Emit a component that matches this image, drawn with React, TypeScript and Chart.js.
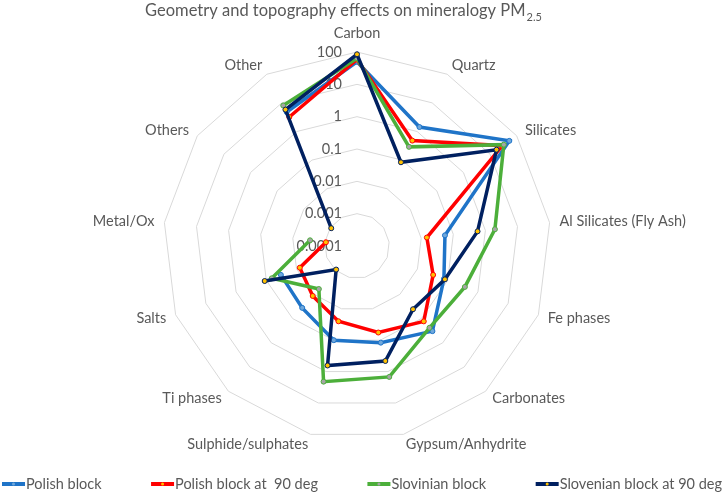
import React, { useRef, useEffect } from 'react';
import Chart from 'chart.js/auto';

// categories around the radar, clockwise from the top
const categories = [
    'Carbon',
    'Quartz',
    'Silicates',
    'Al Silicates (Fly Ash)',
    'Fe phases',
    'Carbonates',
    'Gypsum/Anhydrite',
    'Sulphide/sulphates',
    'Ti phases',
    'Salts',
    'Metal/Ox',
    'Others',
    'Other',
];

// log axis rings
const tickValues = [0.0001, 0.001, 0.01, 0.1, 1, 10, 100];
const tickLabels = ['0.0001', '0.001', '0.01', '0.1', '1', '10', '100'];

// null = zero in the sheet, not drawn on a log axis
const polishBlock = [50, 1.43, 53, 0.055, 0.075, 0.33, 0.12, 0.1, 0.036, 0.033, null, null, 4.8];
const polishBlock90 = [59, 0.48, 29, 0.015, 0.033, 0.13, 0.057, 0.025, 0.0116, 0.0078, 0.00093, null, 3.2];
const slovinianBlock = [64, 0.29, 33, 1.98, 0.37, 0.24, 1.48, 2.09, 0.006, 0.066, 0.0029, null, 8.1];
const slovenianBlock90 = [85, 0.084, 17.5, 0.57, 0.081, 0.041, 0.46, 0.64, 0.00094, 0.113, null, 0.00093, 5.8];

const seriesNames = ['Polish block', 'Polish block at  90 deg', 'Slovinian block', 'Slovenian block at 90 deg'];
const seriesValues = [polishBlock, polishBlock90, slovinianBlock, slovenianBlock90];

const lineColors = ['#1F74C8', '#FF0000', '#4CAF3A', '#002060'];
const markerColors = ['#6FA8DC', '#FFC000', '#A5A5A5', '#FFC000'];

const FONT = 'Lato, sans-serif';
const TEXT = '#595959';

const toLog = (v: number | null) => (v == null ? null : Math.log10(v));

// text drawn the way the spreadsheet lays it out
const excelText = {
    id: 'excelText',
    beforeDatasetsDraw(chart: any) {
        const scale = chart.scales.r;
        const ctx = chart.ctx;
        ctx.save();
        ctx.font = `14.5px ${FONT}`;
        ctx.fillStyle = TEXT;
        ctx.textAlign = 'right';
        ctx.textBaseline = 'middle';
        tickValues.forEach((v, i) => {
            const d = scale.getDistanceFromCenterForValue(Math.log10(v));
            ctx.fillText(tickLabels[i], scale.xCenter - 15, scale.yCenter - d);
        });
        ctx.restore();
    },
    afterDraw(chart: any) {
        const scale = chart.scales.r;
        const ctx = chart.ctx;
        ctx.save();
        ctx.fillStyle = TEXT;

        // category labels
        ctx.font = `14.5px ${FONT}`;
        ctx.textBaseline = 'middle';
        categories.forEach((label, i) => {
            const angle = scale.getIndexAngle(i);
            const pad = i === 0 ? 19 : 10;
            const p = scale.getPointPosition(i, scale.drawingArea + pad);
            const s = Math.sin(angle);
            ctx.textAlign = Math.abs(s) < 0.05 ? 'center' : s > 0 ? 'left' : 'right';
            ctx.fillText(label, p.x, p.y);
        });

        // title with subscript
        const main = 'Geometry and topography effects on mineralogy PM';
        const sub = '2.5';
        ctx.textAlign = 'left';
        ctx.textBaseline = 'alphabetic';
        ctx.font = `16.5px ${FONT}`;
        const w1 = ctx.measureText(main).width;
        ctx.font = `11px ${FONT}`;
        const w2 = ctx.measureText(sub).width;
        const x0 = 343 - (w1 + w2) / 2;
        ctx.font = `16.5px ${FONT}`;
        ctx.fillText(main, x0, 16);
        ctx.font = `11px ${FONT}`;
        ctx.fillText(sub, x0 + w1 + 1, 20.5);

        // legend spread over the full width
        ctx.font = `14.5px ${FONT}`;
        ctx.textBaseline = 'middle';
        const y = 484;
        const lineLen = 23;
        const widths = seriesNames.map((n) => lineLen + 1 + ctx.measureText(n).width);
        const gap = (720 - widths.reduce((a, b) => a + b, 0)) / (seriesNames.length - 1);
        let x = 2;
        seriesNames.forEach((name, i) => {
            ctx.strokeStyle = lineColors[i];
            ctx.lineWidth = 4;
            ctx.beginPath();
            ctx.moveTo(x, y);
            ctx.lineTo(x + lineLen, y);
            ctx.stroke();
            ctx.fillStyle = markerColors[i];
            ctx.beginPath();
            ctx.arc(x + lineLen / 2, y, 1.5, 0, Math.PI * 2);
            ctx.fill();
            ctx.fillStyle = TEXT;
            ctx.fillText(name, x + lineLen + 1, y);
            x += widths[i] + gap;
        });
        ctx.restore();
    },
};

const App = () => {
    const chartRef = useRef<HTMLCanvasElement>(null);

    useEffect(() => {
        if (!chartRef.current) return;

        const datasets = seriesNames.map((name, i) => ({
            label: name,
            data: seriesValues[i].map(toLog),
            borderColor: lineColors[i],
            backgroundColor: lineColors[i],
            borderWidth: 3.5,
            fill: false,
            spanGaps: false,
            pointRadius: 2.5,
            pointBorderWidth: 1,
            pointBackgroundColor: markerColors[i],
            pointBorderColor: lineColors[i],
            order: seriesNames.length - i, // later series on top
        }));

        const myChart = new Chart(chartRef.current, {
            type: 'radar',
            data: { labels: categories, datasets },
            options: {
                animation: false,
                responsive: true,
                maintainAspectRatio: false,
                events: [],
                plugins: {
                    legend: { display: false },
                    title: { display: false },
                    tooltip: { enabled: false },
                },
                scales: {
                    r: {
                        min: Math.log10(tickValues[0]),
                        max: Math.log10(tickValues[tickValues.length - 1]),
                        ticks: { stepSize: 1, display: false },
                        grid: { color: '#D9D9D9', lineWidth: 1 },
                        angleLines: { display: false },
                        pointLabels: { display: false },
                        afterFit: (scale: any) => {
                            scale.xCenter = 357;
                            scale.yCenter = 246;
                            scale.drawingArea = 194;
                        },
                    },
                },
            },
            plugins: [excelText],
        });
        return () => myChart.destroy();
    }, []);

    return (
        <div style={{ position: 'absolute', left: 0, top: 0, width: 726, height: 493, background: '#fff' }}>
            <canvas ref={chartRef} />
        </div>
    );
};

export default App;
